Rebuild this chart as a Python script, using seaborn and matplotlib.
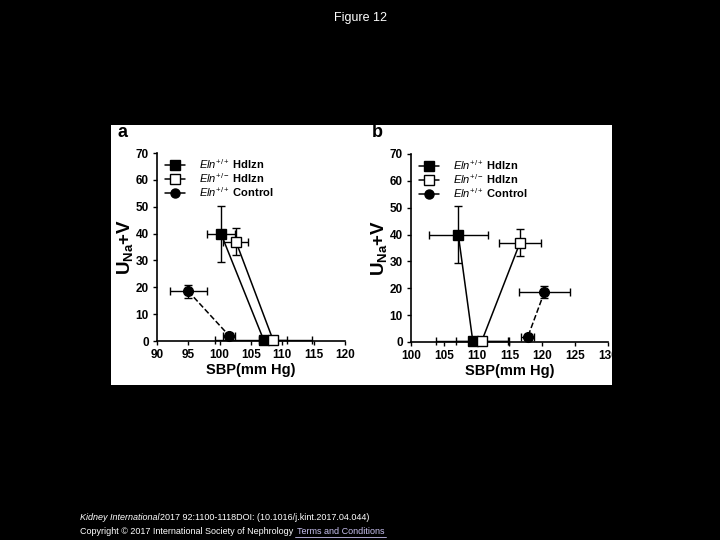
import matplotlib
matplotlib.use("Agg")
import matplotlib.pyplot as plt
from matplotlib.patches import Rectangle
import seaborn as sns
import pandas as pd

sns.set_style("ticks")
plt.rcParams['font.family'] = ['Liberation Sans', 'DejaVu Sans']
plt.rcParams['text.color'] = 'black'
plt.rcParams['axes.labelcolor'] = 'black'
plt.rcParams['xtick.color'] = 'black'
plt.rcParams['ytick.color'] = 'black'
plt.rcParams['mathtext.fontset'] = 'custom'
plt.rcParams['mathtext.rm'] = 'Liberation Sans'
plt.rcParams['mathtext.it'] = 'Liberation Sans:italic'
plt.rcParams['mathtext.bf'] = 'Liberation Sans:bold'

# ---- data: panel a ----
a_ko_x = [100.2, 107.0]; a_ko_y = [40.0, 0.5]; a_ko_xerr = [2.2, 7.8]; a_ko_yerr = [10.4, 0.0]
a_het_x = [102.6, 108.5]; a_het_y = [37.0, 0.5]; a_het_xerr = [2.0, 2.2]; a_het_yerr = [5.0, 0.0]
a_ctl_x = [95.0, 101.5]; a_ctl_y = [18.5, 2.0]; a_ctl_xerr = [3.0, 1.0]; a_ctl_yerr = [2.5, 0.8]
# ---- data: panel b ----
b_ko_x = [107.2, 109.4]; b_ko_y = [40.0, 0.5]; b_ko_xerr = [4.5, 5.6]; b_ko_yerr = [10.5, 0.0]
b_het_x = [116.6, 110.8]; b_het_y = [37.0, 0.5]; b_het_xerr = [3.2, 4.0]; b_het_yerr = [5.0, 0.0]
b_ctl_x = [120.3, 117.8]; b_ctl_y = [18.5, 2.0]; b_ctl_xerr = [3.9, 1.0]; b_ctl_yerr = [2.2, 0.8]

labels = [r"$\it{Eln}^{+/+}$ Hdlzn", r"$\it{Eln}^{+/-}$ Hdlzn", r"$\it{Eln}^{+/+}$ Control"]
yticks = [0, 10, 20, 30, 40, 50, 60, 70]
a_xticks = [90, 95, 100, 105, 110, 115, 120]
b_xticks = [100, 105, 110, 115, 120, 125, 130]

fig = plt.figure(figsize=(7.2, 5.4), dpi=100)
fig.patch.set_facecolor("black")
fig.patches.append(Rectangle((111/720, 1-385/540), 501/720, 260/540,
                             transform=fig.transFigure, facecolor="white",
                             edgecolor="none", zorder=-5))
fig.text(0.5, 1-18/540, "Figure 12", color="white", ha="center", va="center", fontsize=9)
fig.text(80/720, 1-518/540, "Kidney International", color="white", style="italic",
         fontsize=6.5, va="center", ha="left")
fig.text(160/720, 1-518/540, "2017 92:1100-1118DOI: (10.1016/j.kint.2017.04.044)",
         color="white", fontsize=6.5, va="center", ha="left")
fig.text(80/720, 1-532/540, "Copyright \u00a9 2017 International Society of Nephrology",
         color="white", fontsize=6.5, va="center", ha="left")
fig.text(297/720, 1-532/540, "Terms and Conditions", color="#c8c0f0",
         fontsize=6.5, va="center", ha="left")
fig.add_artist(plt.Line2D([295/720, 386/720], [1-537/540, 1-537/540],
                          color="#c8c0f0", lw=0.6, transform=fig.transFigure))

fig.text(117/720, 1-133/540, "a", fontsize=13, fontweight="bold", va="center", color="black")
fig.text(372/720, 1-133/540, "b", fontsize=13, fontweight="bold", va="center", color="black")


def draw(ax, series, xlim, xticks):
    styles = [("s", "black", "-"), ("s", "white", "-"), ("o", "black", "--")]
    handles = []
    for (x, y, xe, ye), (m, fc, ls), lab in zip(series, styles, labels):
        df = pd.DataFrame({"x": x, "y": y})
        ax.errorbar(x, y, xerr=xe, yerr=ye, fmt="none", ecolor="black",
                    elinewidth=1, capsize=3, capthick=1, zorder=2, clip_on=False)
        sns.lineplot(data=df, x="x", y="y", ax=ax, sort=False, color="black",
                     linestyle=ls, lw=1.1, marker=m, markersize=7,
                     markerfacecolor=fc, markeredgecolor="black",
                     markeredgewidth=1, zorder=3, legend=False, clip_on=False)
        handles.append(plt.Line2D([], [], color="black", lw=1.1, marker=m,
                                  markersize=6.5, markerfacecolor=fc,
                                  markeredgecolor="black", label=lab))
    ax.set_xlim(*xlim)
    ax.set_ylim(0, 70)
    ax.set_xticks(xticks)
    ax.set_yticks(yticks)
    ax.set_xlabel("SBP(mm Hg)", fontsize=10.5, fontweight="bold", labelpad=1)
    ax.set_ylabel(r"$\mathbf{U_{Na}}$+V", fontsize=13.5, fontweight="bold", labelpad=0)
    for lab in ax.get_xticklabels() + ax.get_yticklabels():
        lab.set_fontweight("bold")
    ax.tick_params(axis="both", labelsize=8.5, width=1, length=3, direction="out", pad=3)
    sns.despine(ax=ax)
    for s in ("left", "bottom"):
        ax.spines[s].set_linewidth(1.2)
        ax.spines[s].set_color("black")
    ax.set_facecolor("white")
    leg = ax.legend(handles=handles, loc="upper left", frameon=False,
                    fontsize=8, handlelength=1.8, handletextpad=1.2,
                    borderaxespad=0.0, labelspacing=0.0,
                    bbox_to_anchor=(0.02, 1.0))
    for t in leg.get_texts():
        t.set_fontweight("bold")


ax_a = fig.add_axes([157/720, 1-341/540, 188/720, 188/540])
draw(ax_a, [(a_ko_x, a_ko_y, a_ko_xerr, a_ko_yerr),
            (a_het_x, a_het_y, a_het_xerr, a_het_yerr),
            (a_ctl_x, a_ctl_y, a_ctl_xerr, a_ctl_yerr)], (90, 120), a_xticks)

ax_b = fig.add_axes([411/720, 1-342/540, 197/720, 188/540])
draw(ax_b, [(b_ko_x, b_ko_y, b_ko_xerr, b_ko_yerr),
            (b_het_x, b_het_y, b_het_xerr, b_het_yerr),
            (b_ctl_x, b_ctl_y, b_ctl_xerr, b_ctl_yerr)], (100, 130), b_xticks)

fig.savefig("out.png", dpi=100, facecolor="black")
